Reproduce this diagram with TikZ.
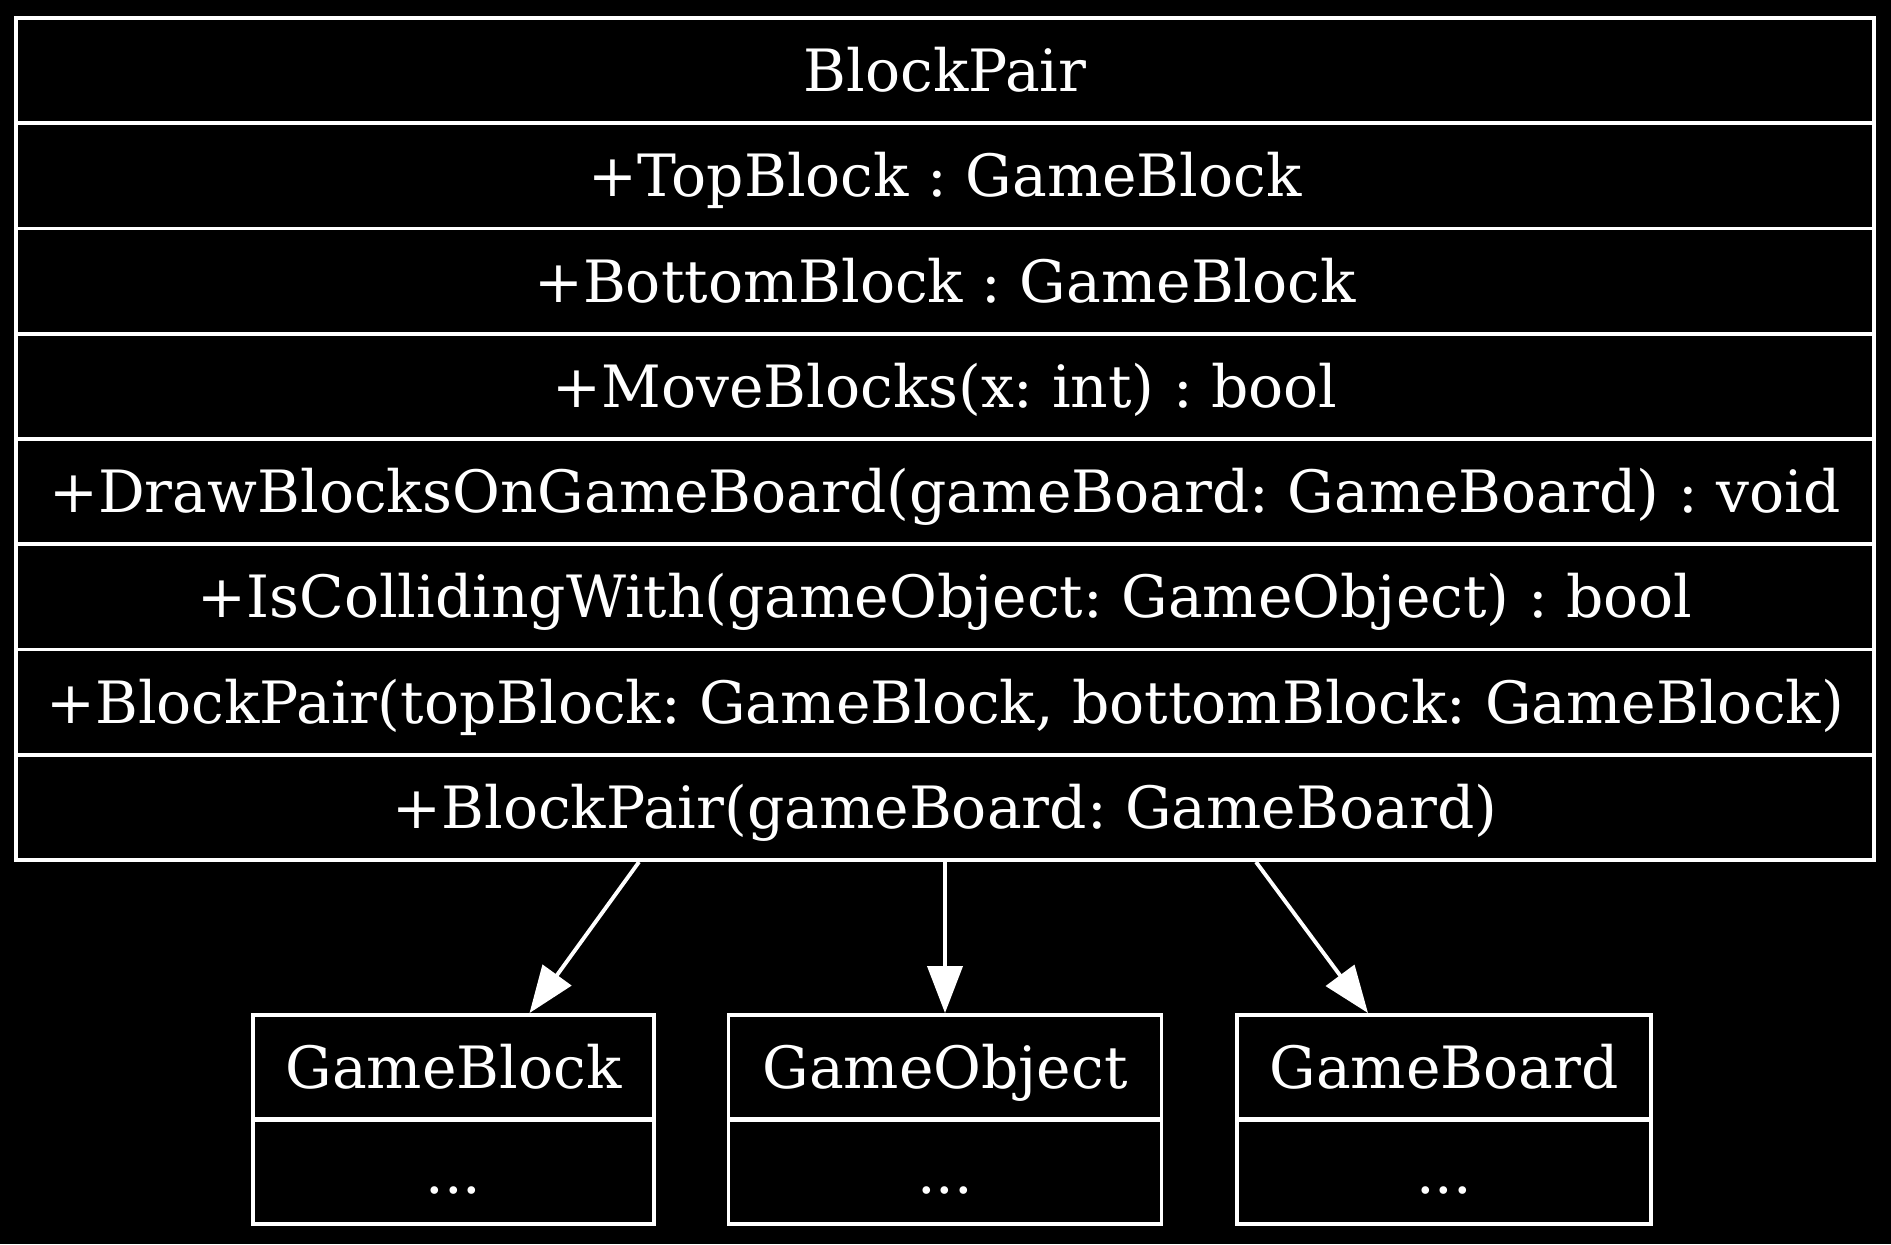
\documentclass[tikz,border=0pt]{standalone}
\usepackage{fontspec}
\setmainfont{DejaVu Serif}
\frenchspacing
\usetikzlibrary{arrows.meta}
\tikzset{
  row/.style={draw=white, line width=1.1pt, text=white, minimum width=18.58cm, minimum height=1.0525cm,
    inner sep=0pt, text height=0.6cm, text depth=0.18cm, font=\fontsize{16.6}{20}\selectfont},
  part/.style={row, minimum width=#1, minimum height=1.04cm},
  link/.style={draw=white, line width=1.1pt, -{Triangle[length=4.7mm,width=3.5mm]}}
}
\begin{document}
\begin{tikzpicture}
        \fill[black] (0,0) rectangle (18.91,12.44);
        \node[row] (r1) at (9.45,11.734) {BlockPair};
        \node[row] (r2) at (9.45,10.681) {+TopBlock : GameBlock};
        \node[row] (r3) at (9.45,9.629) {+BottomBlock : GameBlock};
        \node[row] (r4) at (9.45,8.576) {+MoveBlocks(x: int) : bool};
        \node[row] (r5) at (9.45,7.524) {+DrawBlocksOnGameBoard(gameBoard: GameBoard) : void};
        \node[row] (r6) at (9.45,6.471) {+IsCollidingWith(gameObject: GameObject) : bool};
        \node[row] (r7) at (9.45,5.419) {+BlockPair(topBlock: GameBlock, bottomBlock: GameBlock)};
        \node[row] (r8) at (9.45,4.366) {+BlockPair(gameBoard: GameBoard)};
        \node[part=4.01cm] (gblock) at (4.535,1.77) {GameBlock};
        \node[part=4.01cm] (gblockb) at (4.535,0.72) {...};
        \node[part=4.33cm] (gobj) at (9.45,1.77) {GameObject};
        \node[part=4.33cm] (gobjb) at (9.45,0.72) {...};
        \node[part=4.14cm] (gboard) at (14.44,1.77) {GameBoard};
        \node[part=4.14cm] (gboardb) at (14.44,0.72) {...};
        \draw[link] ([xshift=-3.06cm]r8.south) -- ([xshift=0.76cm]gblock.north);
        \draw[link] (r8.south) -- (gobj.north);
        \draw[link] ([xshift=3.11cm]r8.south) -- ([xshift=-0.76cm]gboard.north);
    \end{tikzpicture}
\end{document}
